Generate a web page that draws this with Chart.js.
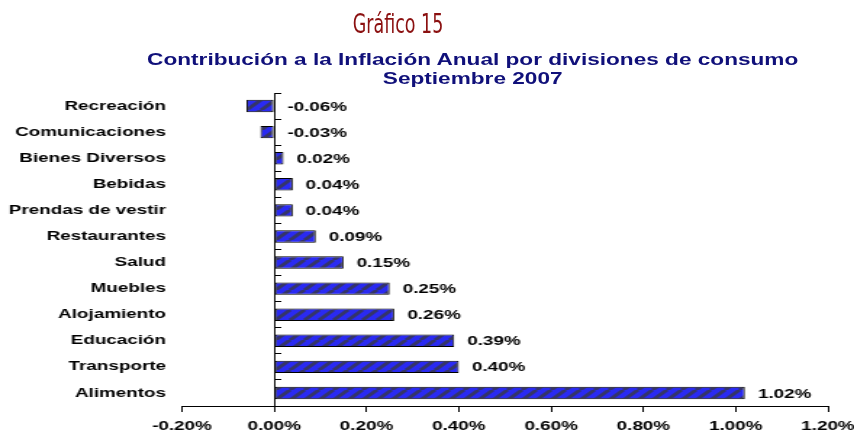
<!DOCTYPE html>
<html>
<head>
<meta charset="utf-8">
<script src="https://cdn.jsdelivr.net/npm/chart.js@4"></script>
<style>
    body { margin: 0; background: #fff; overflow: hidden; }
    #pagina { position: relative; width: 854px; height: 435px; }
    /* la imagen original está estirada en horizontal */
    #estirado { position: absolute; left: 0; top: 0; width: 589px; height: 435px;
        transform: scaleX(1.45); transform-origin: 0 0; }
    #titulo { position: absolute; top: 8px; left: 298px; width: 200px; text-align: center;
        font-family: 'Liberation Sans Narrow', 'DejaVu Sans Condensed', sans-serif; font-size: 27px;
        color: #8b1010; transform: scaleX(0.72); }
    #subtitulo { position: absolute; top: 50px; left: 96px; width: 460px; text-align: center;
        font-family: 'Liberation Sans', Arial, sans-serif; font-weight: bold; font-size: 15.6px;
        line-height: 19px; color: #10107a; white-space: nowrap; }
</style>
</head>
<body>
<div id="pagina">
    <div id="estirado">
        <canvas id="grafico" width="589" height="435"></canvas>
        <div id="subtitulo">Contribución a la Inflación Anual por divisiones de consumo<br>Septiembre 2007</div>
    </div>
    <div id="titulo">Gráfico 15</div>
</div>
<script>
const divisiones = ['Recreación', 'Comunicaciones', 'Bienes Diversos', 'Bebidas', 'Prendas de vestir',
    'Restaurantes', 'Salud', 'Muebles', 'Alojamiento', 'Educación', 'Transporte', 'Alimentos'];
const contribucion = [-0.06, -0.03, 0.02, 0.04, 0.04, 0.09, 0.15, 0.25, 0.26, 0.39, 0.40, 1.02];
const ejeMin = -0.2;
const ejeMax = 1.2;
const ejePaso = 0.2;

const fuente = { family: "'Liberation Sans', Arial, sans-serif", size: 13, weight: 'bold' };

// relleno rayado como en Excel
function crearPatron() {
    const c = document.createElement('canvas');
    c.width = 10; c.height = 10;
    const g = c.getContext('2d');
    g.fillStyle = '#2a2af2';
    g.fillRect(0, 0, 10, 10);
    g.strokeStyle = 'rgba(55,55,80,0.85)';
    g.lineWidth = 3;
    for (let k = -10; k <= 20; k += 10) {
        g.beginPath();
        g.moveTo(k, 10);
        g.lineTo(k + 10, 0);
        g.stroke();
    }
    return g.createPattern(c, 'repeat');
}

const etiquetasValor = {
    id: 'etiquetasValor',
    afterDatasetsDraw(chart) {
        const ctx = chart.ctx;
        const meta = chart.getDatasetMeta(0);
        const cero = chart.scales.x.getPixelForValue(0);
        ctx.save();
        ctx.font = `bold ${fuente.size}px ${fuente.family}`;
        ctx.fillStyle = '#000';
        ctx.textBaseline = 'middle';
        ctx.textAlign = 'left';
        meta.data.forEach((bar, i) => {
            const x = Math.max(bar.x, cero) + 9;
            ctx.fillText(contribucion[i].toFixed(2) + '%', x, bar.y + 1);
        });
        ctx.restore();
    }
};

new Chart(document.getElementById('grafico'), {
    type: 'bar',
    data: {
        labels: divisiones,
        datasets: [{
            data: contribucion,
            yAxisID: 'y',
            backgroundColor: crearPatron(),
            borderColor: '#000',
            borderWidth: 1,
            borderSkipped: false,
            barPercentage: 0.5,
            categoryPercentage: 0.95
        }]
    },
    options: {
        indexAxis: 'y',
        responsive: false,
        animation: false,
        layout: { padding: { top: 93, right: 18, bottom: 0, left: 0 } },
        plugins: { legend: { display: false }, tooltip: { enabled: false } },
        scales: {
            x: {
                min: ejeMin,
                max: ejeMax,
                afterBuildTicks: (s) => {
                    s.ticks = [];
                    for (let v = ejeMin; v <= ejeMax + 1e-9; v += ejePaso) s.ticks.push({ value: Math.round(v * 100) / 100 });
                },
                afterFit: (s) => { s.height = 29; s.paddingLeft = 0; s.paddingRight = 0; },
                grid: { drawOnChartArea: false, tickLength: 6, color: '#000' },
                border: { color: '#000', width: 1 },
                ticks: {
                    color: '#000',
                    font: fuente,
                    padding: 7,
                    maxRotation: 0,
                    callback: (v) => v.toFixed(2) + '%'
                }
            },
            y: {
                type: 'category',
                offset: true,
                grid: { display: false, drawTicks: false },
                border: { display: false },
                afterFit: (s) => { s.width = 125.5; },
                ticks: { color: '#000', font: fuente, padding: 11, autoSkip: false }
            },
            y2: {
                type: 'category',
                labels: divisiones,
                position: { x: 0 },
                offset: true,
                afterFit: (s) => { s.width = 0; },
                grid: { drawOnChartArea: false, offset: true, tickLength: -5, color: '#000' },
                border: { color: '#000', width: 1 },
                ticks: { display: false }
            }
        }
    },
    plugins: [etiquetasValor]
});
</script>
</body>
</html>
